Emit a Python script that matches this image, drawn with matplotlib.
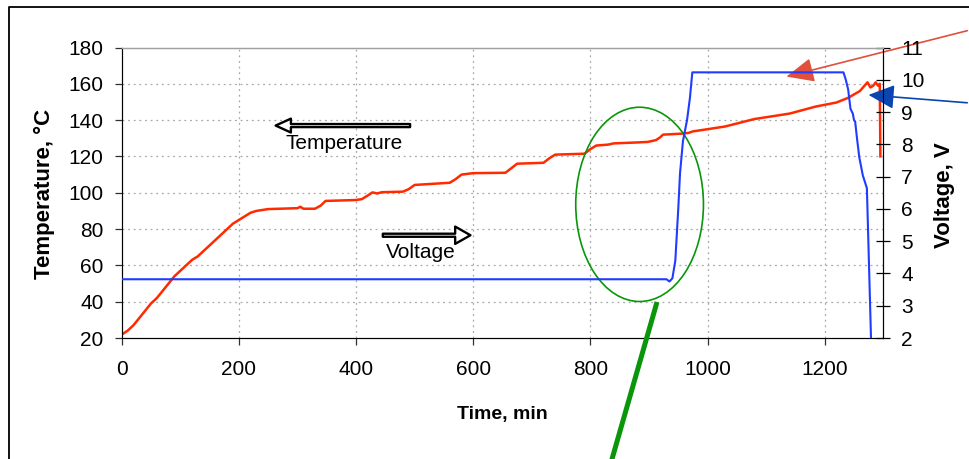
"""Temperature / voltage log vs time, twin y-axes, with callout arrows."""

import matplotlib

matplotlib.use("Agg")
import matplotlib.pyplot as plt
from matplotlib.lines import Line2D
from matplotlib.patches import Ellipse, FancyArrowPatch

plt.rcParams["font.family"] = ["Liberation Sans", "DejaVu Sans"]

# temperature trace (min, degC)
TIME_T = [3, 10, 20, 30, 40, 50, 60, 70, 80, 90, 100, 110, 120, 130, 140, 150,
          160, 170, 180, 190, 200, 210, 220, 230, 240, 250, 300, 305, 310, 330,
          340, 348, 400, 410, 420, 428, 436, 444, 480, 490, 500, 560, 570, 580,
          600, 655, 665, 675, 720, 730, 740, 790, 800, 810, 830, 840, 880, 898,
          912, 919, 924, 958, 968, 975, 1000, 1030, 1080, 1140, 1185, 1220,
          1240, 1260, 1268, 1273, 1278, 1283, 1287, 1291, 1294, 1295]
TEMP = [22.5, 24, 27, 31, 35, 39, 42, 46, 50, 54, 57, 60, 63, 65, 68, 71,
        74, 77, 80, 83, 85, 87, 89, 90, 90.5, 91, 91.5, 92.3, 91.2, 91.2,
        93, 95.5, 96, 96.5, 98.5, 100.2, 99.6, 100.3, 100.6, 102, 104.3, 105.5,
        107.5, 110, 110.8, 111, 113.5, 116, 116.5, 119, 121, 121.5, 124, 126,
        126.5, 127.2, 127.7, 128, 129, 130.5, 132, 132.6, 133, 133.8, 135,
        136.5, 140.6, 143.6, 147.5, 149.7, 152.3, 156, 159, 160.8, 158, 159,
        160.8, 159, 160, 120]

# voltage trace (min, V)
TIME_V = [0, 930, 935, 940, 945, 950, 953, 958, 965, 970, 974, 1232, 1236,
          1240, 1244, 1248, 1250, 1252, 1255, 1259, 1265, 1272, 1279]
VOLT = [3.82, 3.82, 3.75, 3.85, 4.4, 6.0, 7.1, 8.1, 8.75, 9.45, 10.23, 10.23,
        10.0, 9.7, 9.1, 8.95, 8.75, 8.7, 8.2, 7.6, 7.04, 6.64, 2.0]

X_TICKS = [0, 200, 400, 600, 800, 1000, 1200]
T_TICKS = [20, 40, 60, 80, 100, 120, 140, 160, 180]
V_TICKS = [2, 3, 4, 5, 6, 7, 8, 9, 10, 11]

RED = "#ff2a00"
BLUE = "#1f3cff"
GREEN = "#0a960a"
GRID = dict(color="#a8a8a8", linewidth=0.9, linestyle=(0, (1.5, 3)))

W, H = 970, 459


def fx(x, y):
    """pixel position (from top-left) -> figure fraction"""
    return x / W, 1 - y / H


def main() -> None:
    fig = plt.figure(figsize=(W / 100, H / 100), dpi=100)
    ax = fig.add_axes([121.7 / W, 1 - 338 / H, (883.3 - 121.7) / W, (338 - 47.5) / H])
    ax2 = ax.twinx()

    ax.set_xlim(0, 1300)
    ax.set_ylim(20, 180)
    ax2.set_ylim(2, 11)
    ax.set_xticks(X_TICKS)
    ax.set_yticks(T_TICKS)
    ax2.set_yticks(V_TICKS)

    for t in X_TICKS[1:]:
        ax.axvline(t, zorder=0, **GRID)
    for v in T_TICKS[1:-1]:
        ax.axhline(v, zorder=0, **GRID)

    ax.plot(TIME_T, TEMP, color=RED, lw=1.8, zorder=3)
    ax2.plot(TIME_V, VOLT, color=BLUE, lw=1.5, zorder=3)

    for a in (ax, ax2):
        a.spines["top"].set_color("#a0a0a0")
        a.spines["top"].set_linewidth(0.9)
    ax.spines["left"].set_color("#303030")
    ax.spines["bottom"].set_color("#303030")
    ax2.spines["right"].set_color("black")
    ax.tick_params(axis="y", direction="out", length=5, width=0.9, pad=8,
                   labelsize=15, color="#303030")
    ax.tick_params(axis="x", direction="out", length=5, width=0.9, pad=11,
                   labelsize=15, color="#303030")
    ax2.tick_params(axis="y", direction="inout", length=9.5, width=0.9, pad=8,
                    labelsize=15)

    fig.text(*fx(44, 194), "Temperature, °C", rotation=90, ha="center",
             va="center", fontsize=16, fontweight="bold")
    fig.text(*fx(945, 195), "Voltage, V", rotation=90, ha="center",
             va="center", fontsize=16, fontweight="bold")
    fig.text(*fx(502, 414), "Time, min", ha="center", va="center",
             fontsize=14, fontweight="bold")

    # series labels with block arrows (black outline, thin white core)
    ax.add_patch(FancyArrowPatch((497, 137), (258, 137), mutation_scale=10,
                                 arrowstyle="simple,head_length=1.1,head_width=1.0,tail_width=0.22",
                                 fc="white", ec="black", lw=1.7, zorder=5))
    ax.text(380, 127, "Temperature", ha="center", va="center", fontsize=15, zorder=6)
    ax.add_patch(FancyArrowPatch((441, 76.6), (600, 76.6), mutation_scale=10,
                                 arrowstyle="simple,head_length=1.1,head_width=1.25,tail_width=0.22",
                                 fc="white", ec="black", lw=1.7, zorder=5))
    ax.text(511, 67, "Voltage", ha="center", va="center", fontsize=15, zorder=6)

    # highlighted region
    ax.add_patch(Ellipse((884, 93.6), 218, 107, fill=False, ec=GREEN, lw=1.2, zorder=4))

    # callouts coming from outside the plot
    ax.annotate("", xy=(1130, 163.6), xycoords="data", xytext=(W, H - 30),
                textcoords="figure pixels", annotation_clip=False,
                arrowprops=dict(arrowstyle="-|>,head_length=1.7,head_width=0.75",
                                color="#e0503c", lw=1.2, mutation_scale=10),
                zorder=6)
    ax.annotate("", xy=(1270, 154), xycoords="data", xytext=(W, H - 103),
                textcoords="figure pixels", annotation_clip=False,
                arrowprops=dict(arrowstyle="-|>,head_length=1.6,head_width=0.75",
                                color="#0a45b0", lw=1.2, mutation_scale=10),
                zorder=6)

    fig.add_artist(Line2D(*zip(fx(657, 302), fx(606, 480)), color=GREEN, lw=3.6,
                          solid_capstyle="butt"))

    # outer chart frame (right and bottom edges are cropped off)
    fig.add_artist(Line2D(*zip(fx(9, 470), fx(9, 7), fx(980, 7)), color="black", lw=1.3))

    fig.savefig("out.png", dpi=100)


if __name__ == "__main__":
    main()
